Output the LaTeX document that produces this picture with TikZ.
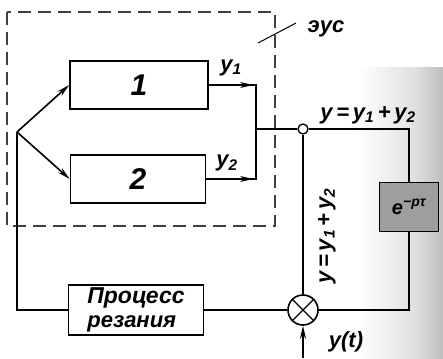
\documentclass[tikz,border=0pt]{standalone}
\usepackage{fontspec}
\setmainfont{Liberation Sans}
\usetikzlibrary{positioning,arrows.meta}
\pgfdeclarehorizontalshading{scanshadow}{100bp}{color(0bp)=(white); color(45bp)=(white);
  color(65bp)=(black!12); color(82bp)=(black!35); color(100bp)=(black!85)}

\begin{document}
\begin{tikzpicture}[x=1pt,y=-1pt,
    every node/.style={font=\bfseries\itshape\fontsize{22}{24}\selectfont},
    blk/.style={rectangle,draw,line width=1.6pt,inner sep=0pt},
    wire/.style={line width=1.6pt},
    arr/.style={wire,-{Stealth[length=13pt,width=6pt]}},
    dbox/.style={line width=1.2pt,dash pattern=on 13pt off 7pt,black!75},
  ]
  \useasboundingbox (0,0) rectangle (443,358);
  % shadow of the scan on the right
  \shade[shading=scanshadow] (300,68) rectangle (443,358);

  \draw[dbox] (7,12) rectangle (275,226);

  \node[blk,minimum width=138pt,minimum height=48pt] (b1) at (139,85) {\fontsize{30}{32}\selectfont 1};
  \node[blk,minimum width=135pt,minimum height=48pt] (b2) at (138,179) {\fontsize{30}{32}\selectfont 2};
  \node[blk,minimum width=135pt,minimum height=50pt,align=left] (proc) at (136,310)
    {\fontsize{23}{20}\selectfont Процесс\\резания};
  \node[blk,minimum width=59pt,minimum height=49pt,fill=black!38] (delay) at (409,207)
    {\fontsize{20}{21}\selectfont e\textsuperscript{−pτ}};
  \node[circle,draw,line width=1.6pt,minimum size=30pt,inner sep=0pt] (sum) at (303,310) {};
  \node[circle,draw,line width=1.3pt,fill=white,minimum size=10pt,inner sep=0pt] (tap) at (303,129) {};

  \coordinate (split) at (17,132);
  \coordinate (jm) at (256,129);
  \coordinate (rt) at (409,129);
  \coordinate (inp) at (303,358);

  \draw[arr] (split) -- (b1.west);
  \draw[arr] (split) -- (b2.west);
  \draw[wire] (split) |- (proc.west);
  \draw[wire] (proc.east) -- (sum.west);

  \draw[wire] (b1.east) -| (jm) |- (b2.east);
  \draw[arr,shorten >=3pt] (b1.east) -- (b1.east -| jm);
  \draw[arr,shorten >=3pt] (b2.east) -- (b2.east -| jm);

  \draw[wire] (jm) -- (tap.west);
  \draw[wire] (tap.east) -- (rt) -- (delay.north);
  \draw[wire] (delay.south) |- (sum.east);
  \draw[wire] (tap.south) -- (sum.north);
  \draw[arr] (inp) -- (sum.south);
  \draw[line width=1.3pt] (sum.north west) -- (sum.south east);
  \draw[line width=1.3pt] (sum.north east) -- (sum.south west);

  \node (ly1) at (231,68) {y\textsubscript{1}};
  \node (ly2) at (227,163) {y\textsubscript{2}};
  \node (lytop) at (368,115) {y\,=\,y\textsubscript{1}\,+\,y\textsubscript{2}};
  \node[rotate=90] (lyv) at (327,236) {y\,=\,y\textsubscript{1}\,+\,y\textsubscript{2}};
  \node (lyt) at (346,342) {y(t)};
  \node (leus) at (326,29) {эус};
  \coordinate (lead) at (258,43);
  \draw[line width=1pt] (lead) -- (296,23);
\end{tikzpicture}
\end{document}
